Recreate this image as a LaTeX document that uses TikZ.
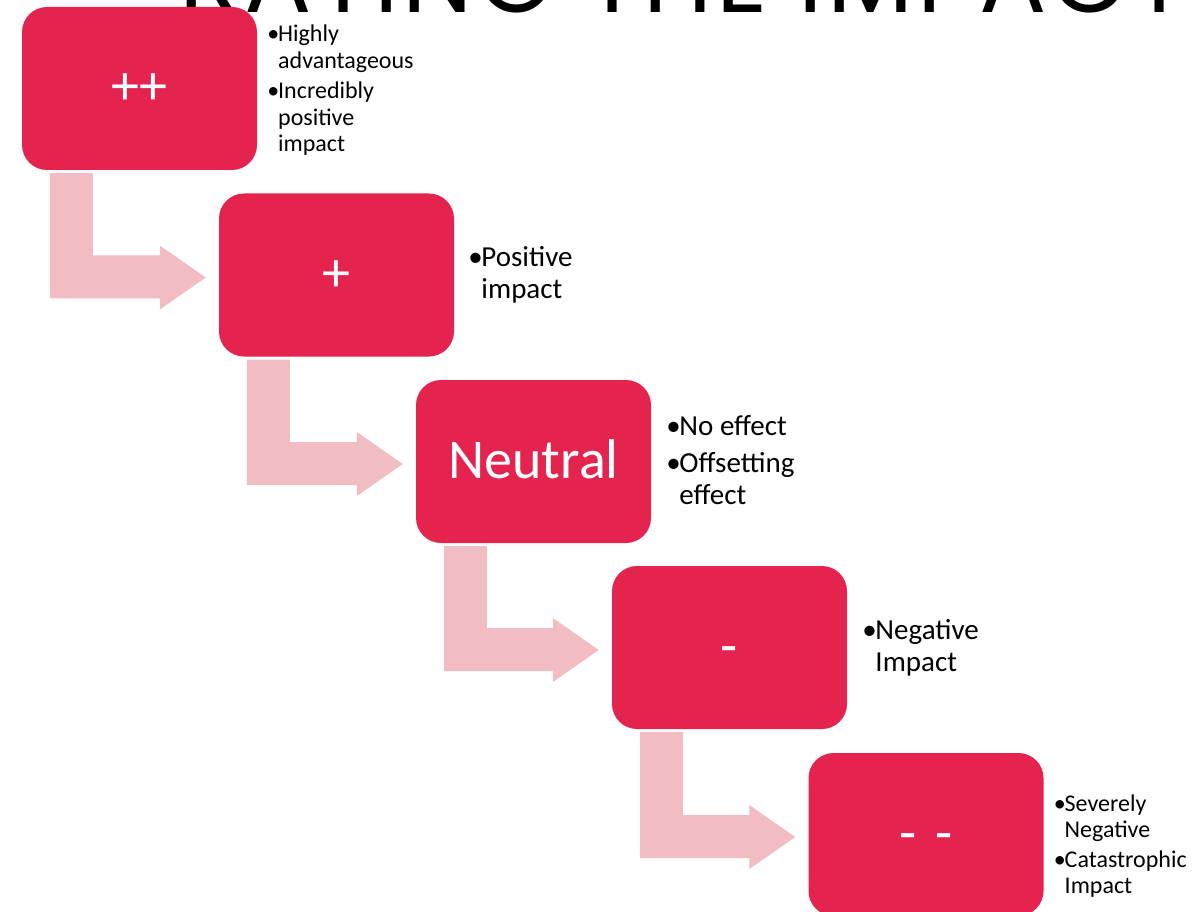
\documentclass[tikz,border=0pt]{standalone}
\usepackage{fontspec}
\setmainfont{Carlito}
\newfontfamily\titlefont[LetterSpace=4]{Poppins}
\usetikzlibrary{calc}
\definecolor{boxred}{HTML}{E5234F}
\definecolor{arrowpink}{HTML}{F2BDC2}
\newcommand{\bul}{\makebox[0.45em][l]{\textbullet}}
\newcommand{\cont}{\hspace*{0.45em}}
% bent arrow from the bottom of one box to the left side of the next
\newcommand{\stepArrow}[2]{%
  \fill[arrowpink] let \p1=(#1.south west), \p2=(#2.west) in
    (\x1+28pt,\y1-3pt) -- (\x1+71pt,\y1-3pt) -- (\x1+71pt,\y2+19.5pt)
    -- (\x2-59pt,\y2+19.5pt) -- (\x2-59pt,\y2+29.5pt) -- (\x2-13pt,\y2-2.5pt)
    -- (\x2-59pt,\y2-34.5pt) -- (\x2-59pt,\y2-23.5pt) -- (\x1+28pt,\y2-23.5pt) -- cycle;}

\begin{document}
\begin{tikzpicture}[x=1pt,y=-1pt,
    rate/.style={fill=boxred,text=white,rounded corners=25pt,minimum width=235pt,
      minimum height=163pt,inner sep=0pt,text height=40pt,text depth=7pt,
      font=\fontsize{56}{60}\selectfont},
    note/.style={anchor=west,align=left,inner sep=0pt,font=\fontsize{29}{32}\selectfont},
    smallnote/.style={note,font=\fontsize{24}{26.5}\selectfont}]
    \clip (0,0) rectangle (1203,912);
    \node[anchor=base,font=\titlefont\fontsize{100}{100}\selectfont] (title) at (683,13) {RATING THE IMPACT};

    \node[rate] (pp) at (139.5,88.5) {++};
    \node[rate] (p) at (336.5,275) {+};
    \node[rate] (neutral) at (533.5,461.5) {Neutral};
    \node[rate] (m) at (729.5,647.5) {-};
    \node[rate] (mm) at (926,834.5) {-\,\,-};

    \stepArrow{pp}{p}
    \stepArrow{p}{neutral}
    \stepArrow{neutral}{m}
    \stepArrow{m}{mm}

    \node[smallnote] (pptext) at ($(pp.east)+(10,2)$)
      {\bul Highly\\\cont advantageous\\[4pt]\bul Incredibly\\\cont positive\\\cont impact};
    \node[note] (ptext) at ($(p.east)+(14,0)$) {\bul Positive\\\cont impact};
    \node[note] (neutraltext) at ($(neutral.east)+(15,-1)$)
      {\bul No effect\\[5pt]\bul Offsetting\\\cont effect};
    \node[note] (mtext) at ($(m.east)+(15,0)$) {\bul Negative\\\cont Impact};
    \node[smallnote] (mmtext) at ($(mm.east)+(10,11.5)$)
      {\bul Severely\\\cont Negative\\[3pt]\bul Catastrophic\\\cont Impact};
\end{tikzpicture}
\end{document}
